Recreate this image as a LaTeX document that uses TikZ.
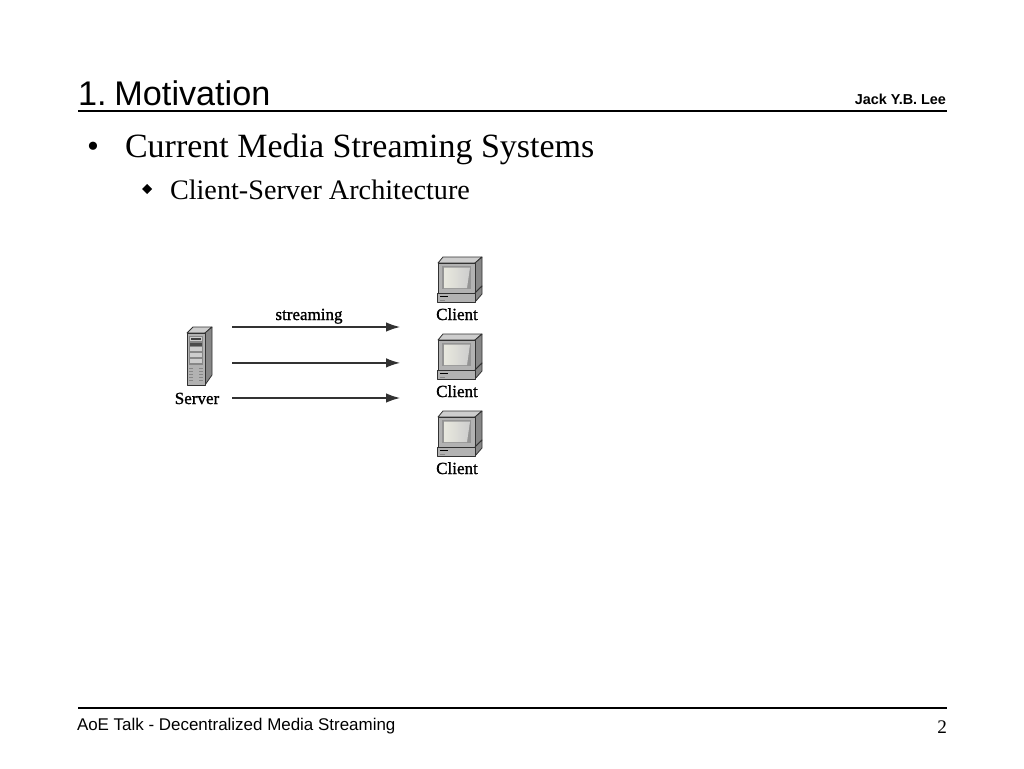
\documentclass[tikz,border=0pt]{standalone}
\usepackage{fontspec}
\setmainfont{Liberation Serif}
\setsansfont{Liberation Sans}
\newfontfamily\lblfont[FakeBold=1.2]{Liberation Serif}
\usetikzlibrary{arrows.meta}
\definecolor{bodyg}{RGB}{178,178,178}
\definecolor{darkg}{RGB}{135,135,135}
\definecolor{lightg}{RGB}{205,205,205}
\definecolor{linek}{RGB}{50,50,50}
\definecolor{screeng}{RGB}{232,232,222}
\tikzset{
  x=1pt,y=-1pt,
  anchored/.style={inner sep=0pt,outer sep=0pt},
  slidetitle/.style={anchored,anchor=base west,font=\sffamily\fontsize{34.2}{36}\selectfont},
  author/.style={anchored,anchor=base east,font=\sffamily\bfseries\fontsize{14.4}{16}\selectfont},
  lvlone/.style={anchored,anchor=base west,font=\rmfamily\fontsize{34}{36}\selectfont},
  lvltwo/.style={anchored,anchor=base west,font=\rmfamily\fontsize{28.2}{30}\selectfont},
  foottext/.style={anchored,anchor=base west,font=\sffamily\fontsize{16.95}{18}\selectfont},
  pagenum/.style={anchored,anchor=base east,font=\rmfamily\fontsize{19.2}{22}\selectfont},
  lbl/.style={anchored,anchor=base,font=\lblfont\fontsize{17}{18}\selectfont},
  hrule/.style={line width=2pt,black},
  flow/.style={line width=1.2pt,linek,-{Latex[length=14pt,width=9.5pt]}},
  part/.style={draw=linek,line width=0.8pt,line join=round},
  pics/client/.style={code={
    \path[part,fill=lightg] (1,6)--(6,0)--(45,0)--(38,6)--cycle;
    \path[part,fill=darkg] (38,6)--(45,0)--(45,29)--(38,36)--cycle;
    \path[part,fill=bodyg] (1,6)--(38,6)--(38,36)--(1,36)--cycle;
    \path[fill=darkg!70!bodyg] (5,9)--(34,9)--(34,32)--(5,32)--cycle;
    \path[left color=screeng,right color=lightg] (7,10.5)--(33,10.5)--(30,31)--(7,31)--cycle;
    \path[part,fill=darkg] (38,36)--(45,29)--(45,37)--(38,45)--cycle;
    \path[part,fill=bodyg] (0,36)--(38,36)--(38,45)--(0,45)--cycle;
    \draw[line width=1pt,black] (3,39)--(11,39);
    \draw[line width=0.8pt,darkg] (3,43)--(8,43);
  }},
  pics/servbox/.style={code={
    \path[part,fill=lightg] (0,6)--(6,0)--(25,0)--(18,6)--cycle;
    \path[part,fill=darkg] (18,6)--(25,0)--(25,48)--(18,58)--cycle;
    \path[part,fill=bodyg] (0,6)--(18,6)--(18,58)--(0,58)--cycle;
    \path[fill=darkg] (2,9)--(16,9)--(16,38)--(2,38)--cycle;
    \path[fill=lightg] (3,10)--(15,10)--(15,14)--(3,14)--cycle;
    \path[fill=black!75] (4,11)--(14,11)--(14,13)--(4,13)--cycle;
    \path[fill=black!70] (3,16)--(15,16)--(15,19)--(3,19)--cycle;
    \path[fill=lightg] (3,20)--(15,20)--(15,24)--(3,24)--cycle;
    \path[fill=lightg] (3,26)--(15,26)--(15,30)--(3,30)--cycle;
    \path[fill=lightg] (3,32)--(15,32)--(15,36)--(3,36)--cycle;
    \foreach \yy in {41,44,47,50,53}{\draw[line width=0.5pt,darkg] (2,\yy)--(6,\yy) (12,\yy)--(16,\yy);}
  }}
}
\begin{document}
\begin{tikzpicture}
\useasboundingbox (0,0) rectangle (1024,768);
\fill[white] (0,0) rectangle (1024,768);
% header
\node[slidetitle] (ttl) at (78,105) {1.\hspace{8pt}Motivation};
\node[author] (auth) at (946,104) {Jack Y.B. Lee};
\coordinate (rtl) at (78,111);
\coordinate (rtr) at (947,111);
\draw[hrule] (rtl)--(rtr);
% bullets
\node[lvlone] (bul) at (87,157) {•};
\node[lvlone] (cur) at (125,157) {Current Media Streaming Systems};
\fill[black] (147,184)--(152,189)--(147,194)--(142,189)--cycle;
\node[lvltwo] (cli) at (170,199.5) {Client-Server Architecture};
% server
\pic at (187,327) {servbox};
\node[lbl] (srv) at (197,404) {Server};
% clients
\pic at (437,257) {client};
\node[lbl] (c1) at (457,320) {Client};
\pic at (437,334) {client};
\node[lbl] (c2) at (457,397) {Client};
\pic at (437,411) {client};
\node[lbl] (c3) at (457,474) {Client};
% arrows
\coordinate (a1s) at (232,327); \coordinate (a1e) at (400,327);
\coordinate (a2s) at (232,362.9); \coordinate (a2e) at (400,362.9);
\coordinate (a3s) at (232,398); \coordinate (a3e) at (400,398);
\draw[flow] (a1s)--(a1e);
\draw[flow] (a2s)--(a2e);
\draw[flow] (a3s)--(a3e);
\node[lbl] (strm) at (309,320) {streaming};
% footer
\coordinate (frl) at (78,708);
\coordinate (frr) at (947,708);
\draw[hrule] (frl)--(frr);
\node[foottext] (ft) at (77,730) {AoE Talk - Decentralized Media Streaming};
\node[pagenum] (pg) at (947,733) {2};
\end{tikzpicture}
\end{document}
